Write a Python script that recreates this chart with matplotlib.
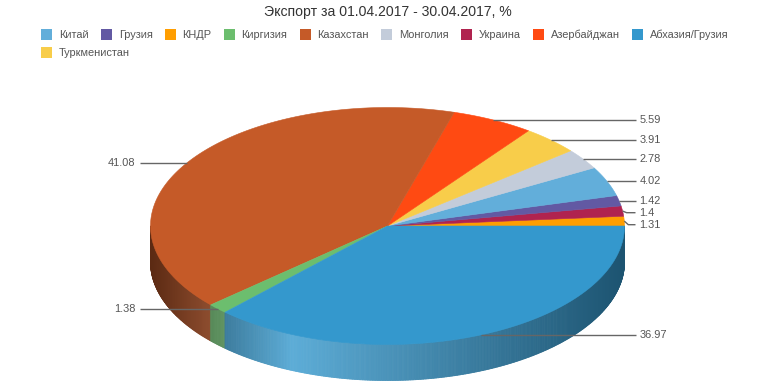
import numpy as np
import matplotlib
matplotlib.use("Agg")
import matplotlib.pyplot as plt
from matplotlib.collections import PolyCollection
from matplotlib.patches import Rectangle
import matplotlib.colors as mcolors

# ---------------- data ----------------
title = "Экспорт за 01.04.2017 - 30.04.2017, %"
categories = ["Китай", "Грузия", "КНДР", "Киргизия", "Казахстан", "Монголия",
              "Украина", "Азербайджан", "Абхазия/Грузия", "Туркменистан"]
values = [4.02, 1.42, 1.31, 1.38, 41.08, 2.78, 1.4, 5.59, 36.97, 3.91]
colors = ["#62AEDA", "#6259A3", "#FF9E01", "#6CBE6E", "#C55A28", "#C3CCDA",
          "#B0234F", "#FF4A12", "#3498CD", "#F8CD4A"]
# order in which slices are laid counter-clockwise from 3 o'clock
pie_order = ["КНДР", "Украина", "Грузия", "Китай", "Монголия", "Туркменистан",
             "Азербайджан", "Казахстан", "Киргизия", "Абхазия/Грузия"]

# ---------------- layout ----------------
W, H = 774, 387
FONT = ["Liberation Sans", "DejaVu Sans"]
cx, cy = 387.5, 226.0
rx, ry = 237.0, 118.5
depth = 36.0
px2pt = 0.72

fig = plt.figure(figsize=(W / 100, H / 100), dpi=100)
ax = fig.add_axes([0, 0, 1, 1])
ax.set_xlim(0, W)
ax.set_ylim(H, 0)
ax.axis("off")

val_of = dict(zip(categories, values))
col_of = dict(zip(categories, colors))
total = sum(values)


def ell(theta_deg):
    t = np.radians(theta_deg)
    return cx + rx * np.cos(t), cy - ry * np.sin(t)


def side_color(c, x):
    rgb = np.array(mcolors.to_rgb(c))
    u = (x - (cx - rx)) / (2 * rx)
    light = rgb + (1 - rgb) * 0.2
    dark_l = rgb * 0.46
    dark_r = rgb * 0.55
    peak = 0.3
    if u < peak:
        t = u / peak
        out = dark_l + (light - dark_l) * t
    else:
        t = (u - peak) / (1 - peak)
        out = light + (dark_r - light) * t
    return np.clip(out, 0, 1)


# angles
slices = []
a = 0.0
for name in pie_order:
    span = val_of[name] / total * 360.0
    slices.append((name, a, a + span))
    a += span

# sides (front half only)
side_polys, side_cols = [], []
for name, a0, a1 in slices:
    lo, hi = max(a0, 180.0), min(a1, 360.0)
    if hi <= lo:
        continue
    n = max(2, int((hi - lo) / 0.4) + 1)
    ths = np.linspace(lo, hi, n)
    for t0, t1 in zip(ths[:-1], ths[1:]):
        x0, y0 = ell(t0)
        x1, y1 = ell(t1)
        side_polys.append([(x0, y0), (x1, y1), (x1, y1 + depth), (x0, y0 + depth)])
        side_cols.append(side_color(col_of[name], (x0 + x1) / 2))
ax.add_collection(PolyCollection(side_polys, facecolors=side_cols,
                                 edgecolors=side_cols, linewidths=0.6,
                                 antialiased=True))

# top faces
for name, a0, a1 in slices:
    n = max(3, int((a1 - a0) / 0.5) + 2)
    ths = np.linspace(a0, a1, n)
    xs, ys = ell(ths)
    pts = [(cx, cy)] + list(zip(xs, ys))
    ax.add_patch(plt.Polygon(pts, closed=True, facecolor=col_of[name],
                             edgecolor=col_of[name], linewidth=0.4))

# labels
lab_fs = 11 * px2pt
groups = {1: [], -1: []}
for name, a0, a1 in slices:
    mid = (a0 + a1) / 2
    px, py = ell(mid)
    s = 1 if np.cos(np.radians(mid)) >= 0 else -1
    groups[s].append([py, px, name])
for s, items in groups.items():
    items.sort(key=lambda r: r[0])
    prev = -1e9
    for it in items:
        ly = max(it[0], prev + 12)
        prev = ly
        py, px, name = it
        xe = cx + s * (rx + 11)
        ax.plot([px, px + s * 4, xe], [py, ly, ly], color="#666666", lw=1.0,
                solid_capstyle="butt")
        ax.text(cx + s * (rx + 15), ly, f"{val_of[name]:g}",
                ha="left" if s > 0 else "right", va="center",
                fontsize=lab_fs, color="#555555", family=FONT)

# title
ax.text(W / 2 + 0.5, 12, title, ha="center", va="center", fontsize=14 * px2pt,
        color="#333333", family=FONT)

# legend
renderer = fig.canvas.get_renderer()
x0_leg, x = 41.0, 41.0
yc = 34.5
for name, c in zip(categories, colors):
    t = ax.text(0, 0, name, fontsize=11 * px2pt, family=FONT)
    w = t.get_window_extent(renderer).width
    t.remove()
    entry_w = 18 + w
    if x + entry_w > W - 30 and x > x0_leg:
        x = x0_leg
        yc += 18
    ax.add_patch(Rectangle((x, yc - 5.5), 11, 11, facecolor=c, edgecolor="none"))
    ax.text(x + 18, yc, name, ha="left", va="center", fontsize=11 * px2pt,
            color="#555555", family=FONT)
    x += entry_w + 12

fig.savefig("out.png", dpi=100)
